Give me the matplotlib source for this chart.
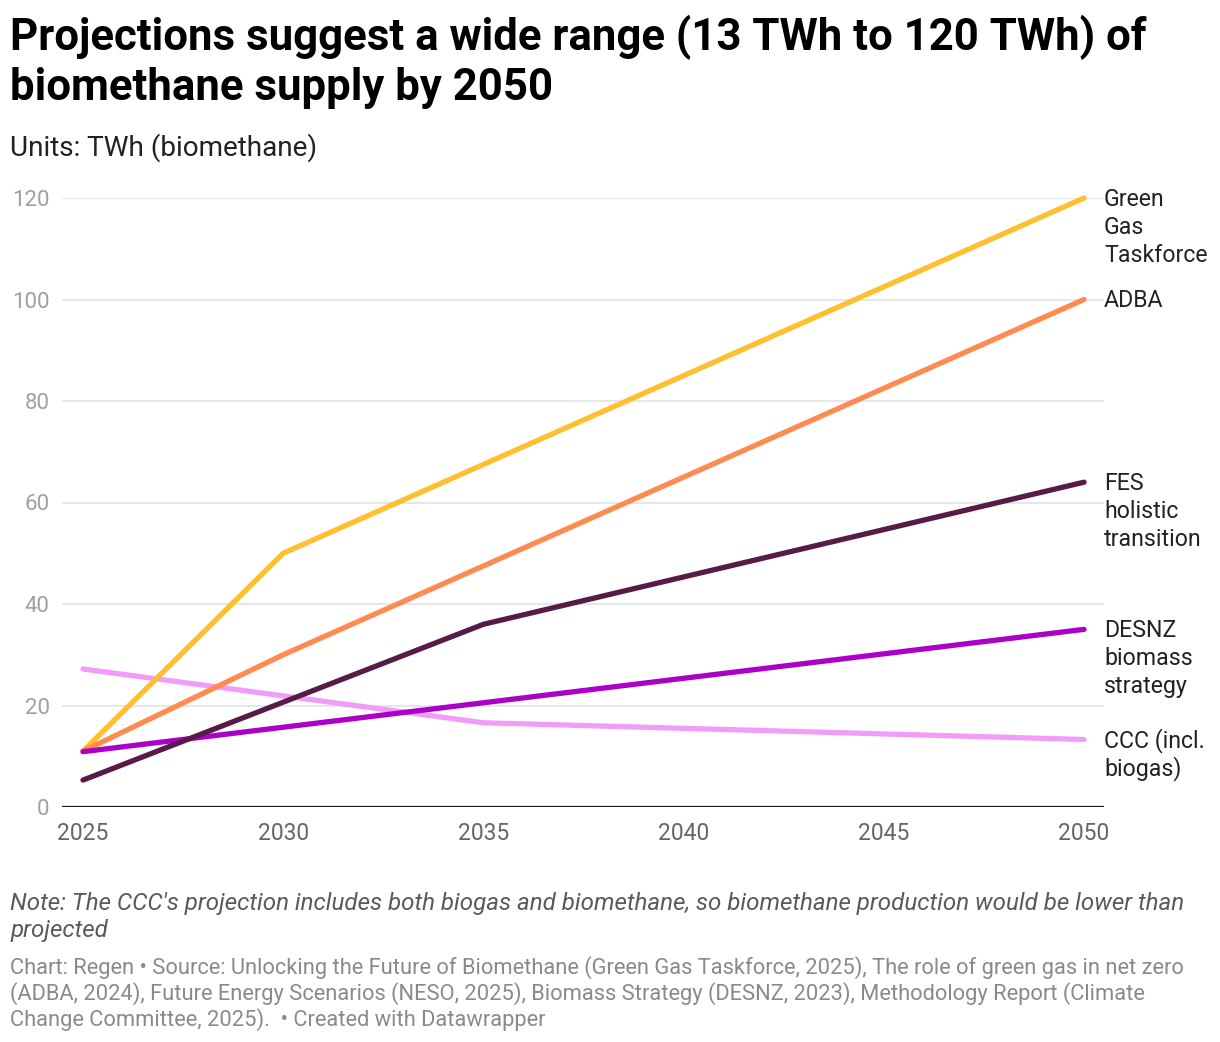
import matplotlib
matplotlib.use('Agg')
import matplotlib.pyplot as plt

plt.rcParams['font.family'] = ['Roboto', 'DejaVu Sans']

# data
years_ggt  = [2025, 2030, 2050]
vals_ggt   = [11, 50, 120]
years_adba = [2025, 2030, 2050]
vals_adba  = [11, 30, 100]
years_fes  = [2025, 2035, 2050]
vals_fes   = [5.3, 36, 64]
years_desnz = [2025, 2050]
vals_desnz  = [10.9, 35]
years_ccc  = [2025, 2035, 2050]
vals_ccc   = [27.2, 16.6, 13.3]

x_ticks = [2025, 2030, 2035, 2040, 2045, 2050]
y_ticks = [0, 20, 40, 60, 80, 100, 120]

series = [
    # (years, values, colour, label lines)
    (years_ccc,   vals_ccc,   '#f19cf9', ['CCC (incl.', 'biogas)']),
    (years_ggt,   vals_ggt,   '#ffbf2f', ['Green', 'Gas', 'Taskforce']),
    (years_adba,  vals_adba,  '#ff8b50', ['ADBA']),
    (years_desnz, vals_desnz, '#ac00c8', ['DESNZ', 'biomass', 'strategy']),
    (years_fes,   vals_fes,   '#561b47', ['FES', 'holistic', 'transition']),
]

W, H = 1220, 1042
fig = plt.figure(figsize=(W/100, H/100), dpi=100)
fig.patch.set_facecolor('white')

def fx(x): return x / W
def fy(y): return 1 - y / H

# axes box in pixels: left 62, right 1104, top 198 (=120), bottom 807 (=0)
ax = fig.add_axes([fx(62), fy(807), (1104-62)/W, (807-198)/H])
ax.set_xlim(2025 - 21*25/1001, 2050 + 20*25/1001)
ax.set_ylim(0, 120)

for s in ax.spines.values():
    s.set_visible(False)

# grid lines
for v in y_ticks[1:]:
    ax.axhline(v, color='#e3e3e3', lw=1.2, zorder=1)
ax.axhline(0, color='#1a1a1a', lw=1.6, zorder=5)

ax.set_xticks(x_ticks)
ax.set_xticklabels([str(t) for t in x_ticks])
ax.set_yticks(y_ticks)
ax.set_yticklabels([str(t) for t in y_ticks])
ax.tick_params(axis='x', length=0, pad=11, labelsize=16.5, labelcolor='#666666')
ax.tick_params(axis='y', length=0, pad=9, labelsize=16, labelcolor='#a0a0a0')

# lines + end labels
for yrs, vals, col, lab in series:
    ax.plot(yrs, vals, color=col, lw=3.8, solid_capstyle='round',
            solid_joinstyle='round', zorder=3, clip_on=False)
    for i, line in enumerate(lab):
        ax.annotate(line, xy=(yrs[-1], vals[-1]), xycoords='data',
                    xytext=(20*0.72, -1 - i*28*0.72), textcoords='offset points',
                    ha='left', va='center', fontsize=16.7, color='#222222',
                    annotation_clip=False)

# header
fig.text(fx(10), fy(50), 'Projections suggest a wide range (13 TWh to 120 TWh) of',
         fontsize=31.5, fontweight='bold', color='#000000', va='baseline')
fig.text(fx(10), fy(100), 'biomethane supply by 2050',
         fontsize=31.5, fontweight='bold', color='#000000', va='baseline')
fig.text(fx(10), fy(156), 'Units: TWh (biomethane)',
         fontsize=20.1, color='#222222', va='baseline')

# notes / footer
fig.text(fx(10), fy(910), "Note: The CCC's projection includes both biogas and biomethane, "
         "so biomethane production would be lower than",
         fontsize=17.4, style='italic', color='#5a5a5a', va='baseline')
fig.text(fx(10), fy(937), 'projected',
         fontsize=17.4, style='italic', color='#5a5a5a', va='baseline')

footer = [
    'Chart: Regen \u2022 Source: Unlocking the Future of Biomethane (Green Gas Taskforce, 2025), '
    'The role of green gas in net zero',
    '(ADBA, 2024), Future Energy Scenarios (NESO, 2025), Biomass Strategy (DESNZ, 2023), '
    'Methodology Report (Climate',
    'Change Committee, 2025).  \u2022 Created with Datawrapper',
]
for i, line in enumerate(footer):
    fig.text(fx(10), fy(974 + i*26), line, fontsize=15.75, color='#8a8a8a', va='baseline')

fig.savefig('out.png', dpi=100, facecolor='white')
